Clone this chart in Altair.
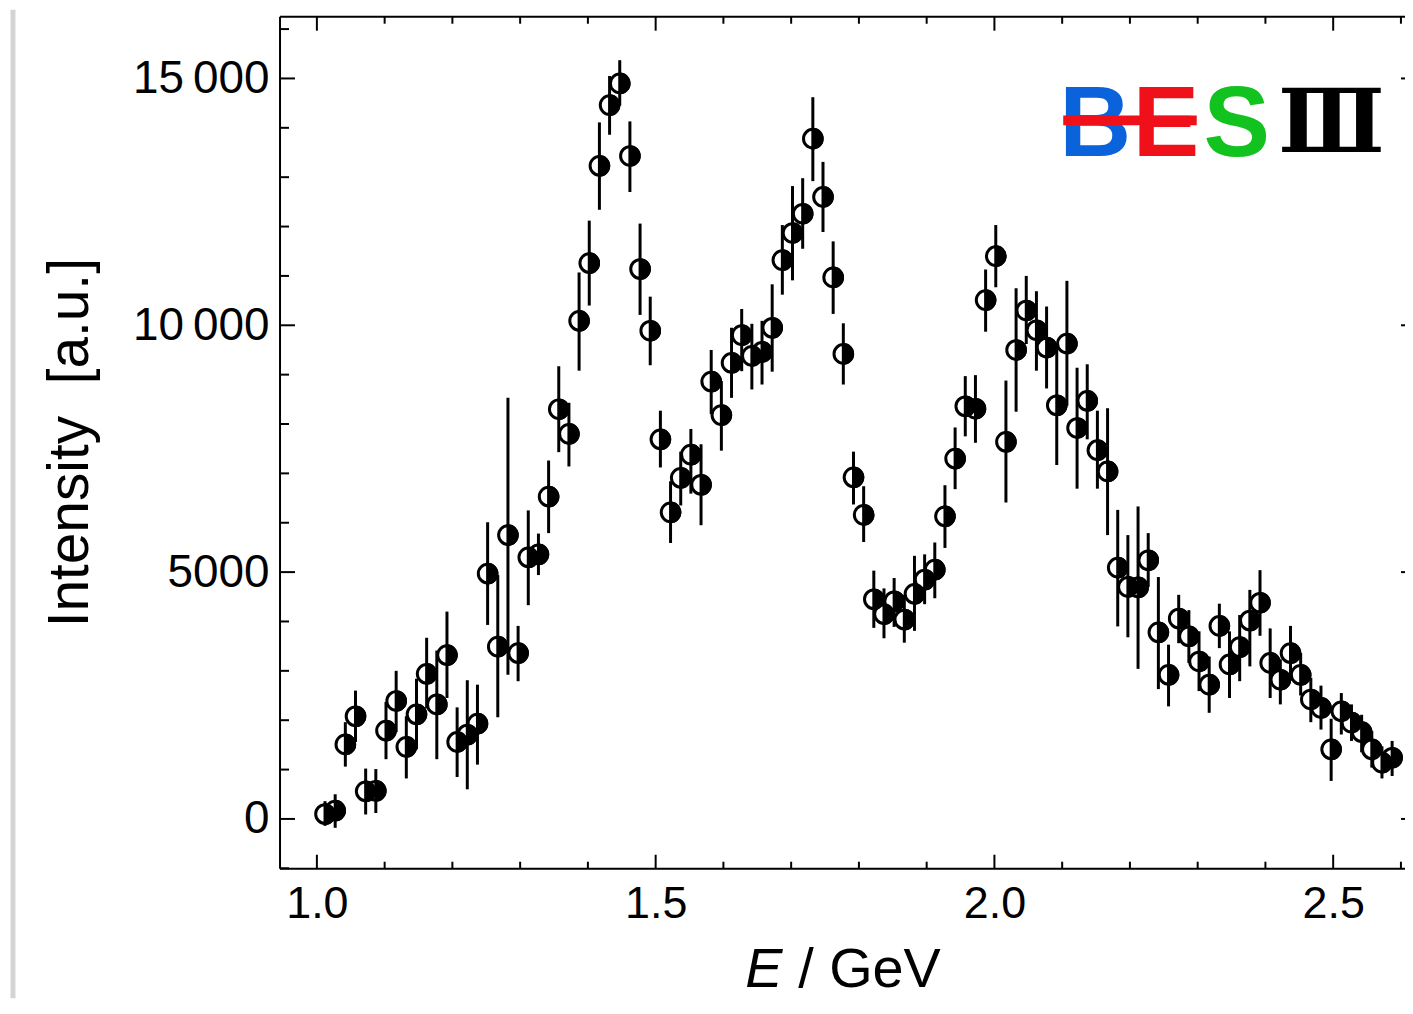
import altair as alt
import pandas as pd

# ---------------- data ----------------
energy = [1.012, 1.027, 1.042, 1.057, 1.072, 1.087, 1.102, 1.117, 1.132, 1.147,
          1.162, 1.177, 1.192, 1.207, 1.222, 1.237, 1.252, 1.267, 1.282, 1.297,
          1.312, 1.327, 1.342, 1.357, 1.372, 1.387, 1.402, 1.417, 1.432, 1.447,
          1.462, 1.477, 1.492, 1.507, 1.522, 1.537, 1.552, 1.567, 1.582, 1.597,
          1.612, 1.627, 1.642, 1.657, 1.672, 1.687, 1.702, 1.717, 1.732, 1.747,
          1.762, 1.777, 1.792, 1.807, 1.822, 1.837, 1.852, 1.867, 1.882, 1.897,
          1.912, 1.927, 1.942, 1.957, 1.972, 1.987, 2.002, 2.017, 2.032, 2.047,
          2.062, 2.077, 2.092, 2.107, 2.122, 2.137, 2.152, 2.167, 2.182, 2.197,
          2.212, 2.227, 2.242, 2.257, 2.272, 2.287, 2.302, 2.317, 2.332, 2.347,
          2.362, 2.377, 2.392, 2.407, 2.422, 2.437, 2.452, 2.467, 2.482, 2.497,
          2.512, 2.527, 2.542, 2.557, 2.572, 2.587]

intensity = [100, 170, 1510, 2080, 560, 570, 1790, 2390, 1460, 2120,
             2940, 2320, 3320, 1560, 1710, 1930, 4970, 3490, 5750, 3360,
             5300, 5360, 6530, 8300, 7800, 10090, 11260, 13230, 14460, 14900,
             13430, 11140, 9890, 7690, 6210, 6910, 7380, 6770, 8860, 8180,
             9240, 9800, 9380, 9460, 9950, 11320, 11870, 12260, 13780, 12600,
             10970, 9420, 6920, 6160, 4450, 4150, 4410, 4040, 4560, 4850,
             5050, 6130, 7300, 8360, 8310, 10510, 11400, 7640, 9500, 10300,
             9900, 9550, 8380, 9630, 7920, 8470, 7470, 7040, 5090, 4700,
             4690, 5240, 3780, 2920, 4060, 3700, 3190, 2720, 3910, 3130,
             3480, 4020, 4380, 3160, 2820, 3360, 2920, 2420, 2250, 1410,
             2180, 1950, 1760, 1410, 1140, 1240]

err_low = [-140, -180, 1060, 1560, 90, 120, 1210, 1760, 820, 1410,
           2240, 1210, 2450, 850, 600, 1100, 3930, 2060, 2920, 2790,
           4330, 4940, 5790, 7430, 7140, 9080, 10400, 12340, 13860, 14450,
           12700, 10210, 9190, 7120, 5590, 6350, 6590, 5950, 8200, 7460,
           8530, 9070, 8700, 8800, 9060, 10620, 10910, 11550, 12920, 11890,
           10230, 8800, 6370, 5610, 3870, 3660, 3890, 3570, 3810, 4350,
           4470, 5490, 6680, 7750, 7620, 9870, 10770, 6410, 8250, 9620,
           9080, 8720, 7170, 8370, 6690, 7690, 6690, 5750, 3900, 3680,
           3040, 4700, 2630, 2280, 3560, 3160, 2590, 2150, 3460, 2450,
           2790, 3090, 3710, 2450, 2320, 2800, 2500, 1960, 1810, 770,
           1710, 1580, 1350, 1040, 820, 870]

err_high = [360, 500, 1960, 2600, 1020, 1010, 2370, 3000, 2080, 2840,
            3670, 3410, 4200, 2260, 2810, 2720, 6010, 4940, 8530, 3910,
            6250, 5780, 7260, 9170, 8430, 11070, 12120, 14110, 15050, 15370,
            14130, 12060, 10580, 8270, 6840, 7440, 7900, 7590, 9500, 8870,
            9950, 10330, 10030, 10090, 10830, 12030, 12820, 12980, 14620, 13310,
            11700, 10040, 7440, 6740, 5030, 4670, 4880, 4540, 5330, 5360,
            5600, 6760, 7930, 8970, 8990, 11130, 12030, 8880, 10750, 11000,
            10690, 10380, 9640, 10900, 9140, 9210, 8270, 8320, 6260, 5750,
            6330, 5790, 4900, 3530, 4540, 4230, 3800, 3290, 4360, 3800,
            4130, 4640, 5040, 3860, 3230, 3910, 3360, 2860, 2700, 2030,
            2550, 2320, 2110, 1780, 1470, 1580]

x_major = [1.0, 1.5, 2.0, 2.5]
x_minor = [1.1, 1.2, 1.3, 1.4, 1.6, 1.7, 1.8, 1.9, 2.1, 2.2, 2.3, 2.4, 2.6]
y_major = [0, 5000, 10000, 15000]
y_minor = [-1000, 1000, 2000, 3000, 4000, 6000, 7000, 8000, 9000,
           11000, 12000, 13000, 14000, 16000]

# ---------------- layout / style ----------------
FONT = "Liberation Sans"
W, H = 1129, 855
PAD = {"left": 273, "top": 7, "right": 0, "bottom": 130}

xs = alt.Scale(domain=[0.9456, 2.606], nice=False, zero=False)
ys = alt.Scale(domain=[-1008, 16250], nice=False, zero=False)

x_axis = alt.Axis(values=x_major, format=".1f", ticks=False, tickSize=0, domain=False,
                  grid=False, labelFont=FONT, labelFontSize=45, labelColor="black",
                  labelPadding=13, title=None)
y_axis = alt.Axis(values=y_major,
                  labelExpr="datum.value == 15000 ? '15\u2009000' : datum.value == 10000 ? '10\u2009000' : datum.value == 5000 ? '5000' : '0'",
                  ticks=False, tickSize=0, domain=False, grid=False,
                  labelFont=FONT, labelFontSize=46, labelColor="black", labelPadding=11,
                  title="Intensity\u00a0\u00a0[a.u.]", titleFont=FONT, titleFontSize=57,
                  titleFontWeight="normal", titleColor="black", titleAngle=270,
                  titleX=-193, titleY=427, titleAlign="center", titleBaseline="alphabetic")

main = pd.DataFrame({"E": energy, "I": intensity, "lo": err_low, "hi": err_high})
one = pd.DataFrame({"k": [0]})
xmaj = pd.DataFrame({"v": x_major})
xmin = pd.DataFrame({"v": x_minor})
ymaj = pd.DataFrame({"v": y_major})
ymin = pd.DataFrame({"v": y_minor})

CIRCLE = "M-1,0A1,1,0,1,1,1,0A1,1,0,1,1,-1,0Z"
HALF = "M0,-1A1,1,0,0,1,0,1Z"
MSIZE = 350


def X(field):
    return alt.X(field, scale=xs, axis=x_axis)


def Y(field):
    return alt.Y(field, scale=ys, axis=y_axis)


base = alt.Chart(main)

bars = base.mark_rule(color="black", strokeWidth=3).encode(
    x=X("E:Q"), y=Y("lo:Q"), y2="hi:Q",
)
rings = base.mark_point(shape=CIRCLE, size=MSIZE, filled=False, fill="white",
                        fillOpacity=1, stroke="black", strokeWidth=3, opacity=1).encode(
    x=X("E:Q"), y=Y("I:Q"),
)
halves = base.mark_point(shape=HALF, size=MSIZE, filled=True, fill="black",
                         stroke="black", strokeWidth=3, opacity=1).encode(
    x=X("E:Q"), y=Y("I:Q"),
)

# frame (left, bottom, top)
frame_left = alt.Chart(one).mark_rule(color="black", strokeWidth=2).encode(
    x=alt.value(0), y=alt.value(0), y2=alt.value(H))
frame_bottom = alt.Chart(one).mark_rule(color="black", strokeWidth=2).encode(
    x=alt.value(0), x2=alt.value(W + 5), y=alt.value(H))
frame_top = alt.Chart(one).mark_rule(color="black", strokeWidth=2).encode(
    x=alt.value(0), x2=alt.value(W + 5), y=alt.value(0))


def xticks(df, y0, y1):
    return alt.Chart(df).mark_rule(color="black", strokeWidth=2).encode(
        x=X("v:Q"), y=alt.value(y0), y2=alt.value(y1))


def yticks(df, x0, x1):
    return alt.Chart(df).mark_rule(color="black", strokeWidth=2).encode(
        y=Y("v:Q"), x=alt.value(x0), x2=alt.value(x1))


ticks = [
    xticks(xmaj, H, H - 14), xticks(xmin, H, H - 7),
    xticks(xmaj, 0, 14), xticks(xmin, 0, 7),
    yticks(ymaj, 0, 15), yticks(ymin, 0, 9),
    yticks(ymaj, W - 4, W + 3),
]

# x-axis title with italic E
xt_e = alt.Chart(one).mark_text(text="E", font=FONT, fontSize=56, fontStyle="italic",
                                align="left", baseline="alphabetic", color="black").encode(
    x=alt.value(467), y=alt.value(974))
xt_rest = alt.Chart(one).mark_text(text="/ GeV", font=FONT, fontSize=56,
                                   align="left", baseline="alphabetic", color="black").encode(
    x=alt.value(520), y=alt.value(974))


# BES III logo
def logo_letter(t, xpos, ypos, color, font=FONT, size=100):
    return alt.Chart(one).mark_text(text=t, font=font, fontSize=size, fontWeight="bold",
                                    align="center", baseline="alphabetic", color=color).encode(
        x=alt.value(xpos), y=alt.value(ypos))


logo_b = logo_letter("B", 818, 140, "#0b63dc")
logo_e = logo_letter("E", 889, 140, "#f0101a")
logo_s = logo_letter("S", 960, 140, "#12c21e")
logo_iii = logo_letter("Ⅲ", 1055, 136, "black", font="DejaVu Serif", size=88)
logo_bar = alt.Chart(one).mark_rule(color="#f0101a", strokeWidth=10).encode(
    x=alt.value(786), x2=alt.value(920), y=alt.value(104))

# light grey page edge line on the left
edge = alt.Chart(one).mark_rule(color="#d4d4d4", strokeWidth=5).encode(
    x=alt.value(-268), y=alt.value(-7), y2=alt.value(H + 130))

chart = alt.layer(
    bars, rings, halves,
    frame_left, frame_bottom, frame_top, *ticks,
    xt_e, xt_rest,
    logo_b, logo_bar, logo_e, logo_s, logo_iii,
    edge,
).properties(
    width=W, height=H, padding=PAD, autosize=alt.AutoSizeParams(type="none"),
    background="white",
).configure_view(stroke=None)

chart.save("out.html", embed_options={"renderer": "svg", "actions": False})
